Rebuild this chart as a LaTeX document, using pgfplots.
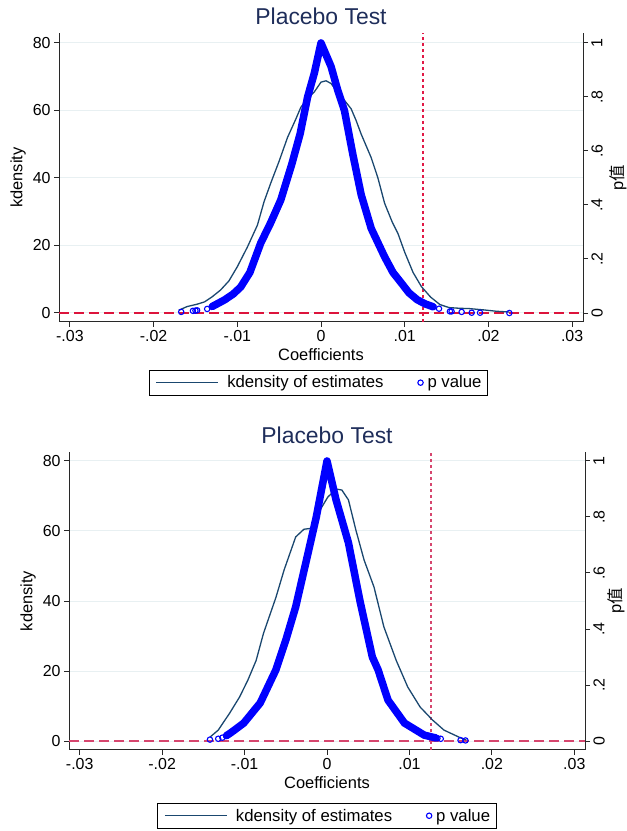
\documentclass[border=0pt]{standalone}
\usepackage{pgfplots}
\usepackage{pgfplotstable}
\pgfplotsset{compat=1.18}
\usepackage{fontspec}
\setmainfont{Liberation Sans}
\newfontfamily\cjk{Noto Sans CJK SC}

\definecolor{stnavy}{RGB}{26,71,111}
\definecolor{sttitle}{RGB}{30,45,90}
\definecolor{stgrid}{RGB}{232,240,242}
\definecolor{axgray}{RGB}{40,40,40}
\definecolor{refred}{RGB}{220,20,60}
\definecolor{refpink}{RGB}{214,70,110}

% kdensity of estimates, top panel
\pgfplotstableread{
x y
-0.0170 0.8
-0.0160 1.9
-0.0148 2.6
-0.0139 3.3
-0.0130 4.8
-0.0120 6.8
-0.0110 9.5
-0.0100 13.7
-0.0088 19.5
-0.0076 26.0
-0.0068 33.0
-0.0060 38.5
-0.0050 45.0
-0.0040 52.0
-0.0030 57.5
-0.0024 61.0
-0.0016 63.5
-0.0008 65.5
0.0000 68.4
0.0006 68.8
0.0012 68.0
0.0018 66.0
0.0028 63.0
0.0036 60.5
0.0042 57.0
0.0048 53.0
0.0060 46.0
0.0068 40.0
0.0076 32.5
0.0085 27.0
0.0092 23.5
0.0100 18.0
0.0110 12.0
0.0120 7.8
0.0131 4.7
0.0142 2.5
0.0153 1.6
0.0165 1.4
0.0177 1.3
0.0195 0.9
0.0210 0.5
0.0225 0.3
}\kdtop

% p value, top panel
\pgfplotstableread{
x p
-0.0167 0.004
-0.0153 0.008
-0.0150 0.009
-0.0148 0.010
-0.0136 0.015
-0.0130 0.024
-0.0124 0.034
-0.0115 0.049
-0.0105 0.070
-0.0096 0.096
-0.0085 0.150
-0.0072 0.259
-0.0060 0.335
-0.0048 0.419
-0.0035 0.550
-0.0025 0.663
-0.0016 0.800
-0.0008 0.888
0.0000 1.000
0.0012 0.913
0.0020 0.825
0.0028 0.750
0.0038 0.588
0.0048 0.438
0.0060 0.313
0.0076 0.208
0.0086 0.150
0.0096 0.111
0.0105 0.075
0.0115 0.049
0.0125 0.033
0.0134 0.023
0.0141 0.016
0.0154 0.006
0.0156 0.006
0.0168 0.004
0.0180 0.001
0.0190 0.001
0.0225 0.000
}\ptop

% kdensity of estimates, bottom panel
\pgfplotstableread{
x y
-0.0142 1.1
-0.0132 3.1
-0.0118 8.0
-0.0106 12.6
-0.0096 17.4
-0.0086 23.0
-0.0077 30.8
-0.0062 41.0
-0.0052 48.9
-0.0038 58.3
-0.0028 60.5
-0.0018 60.8
-0.0011 65.0
0.0001 69.7
0.0011 72.0
0.0018 71.7
0.0026 68.9
0.0035 60.3
0.0045 51.7
0.0057 44.0
0.0069 32.6
0.0084 23.0
0.0098 15.4
0.0113 9.7
0.0128 6.0
0.0142 3.1
0.0162 0.9
0.0169 0.3
}\kdbot

% p value, bottom panel
\pgfplotstableread{
x p
-0.0142 0.005
-0.0132 0.008
-0.0127 0.012
-0.0122 0.019
-0.0116 0.031
-0.0101 0.064
-0.0081 0.136
-0.0062 0.254
-0.0050 0.360
-0.0038 0.479
-0.0023 0.671
-0.0013 0.800
0.0000 1.000
0.0011 0.861
0.0026 0.708
0.0040 0.500
0.0055 0.300
0.0062 0.254
0.0074 0.146
0.0094 0.064
0.0118 0.021
0.0132 0.011
0.0134 0.010
0.0138 0.008
0.0162 0.003
0.0168 0.002
}\pbot

\pgfplotsset{
  longline legend/.style={legend image code/.code={%
      \draw[##1] (3bp,0bp) -- (65bp,0bp);
      \path[draw=none] (0bp,0bp) -- (72bp,0bp);}},
  circ legend/.style={legend image code/.code={%
      \draw[mark repeat=2, mark phase=2, ##1, only marks] plot coordinates {(0bp,0bp) (3bp,0bp) (6bp,0bp)};
      \path[draw=none] (0bp,0bp) -- (8bp,0bp);}},
  base/.style={
    scale only axis, anchor=south west,
    xmin=-0.0313, xmax=0.0313,
    scaled x ticks=false, scaled y ticks=false,
    tick align=outside, major tick length=5bp,
    axis line style={line width=1bp, color=axgray},
    every tick/.style={line width=1bp, color=axgray},
    ticklabel style={font=\fontsize{16}{18}\selectfont},
    label style={font=\fontsize{16.5}{19}\selectfont},
    /pgf/number format/assume math mode=true,
  },
  leftax/.style={
    base,
    axis x line*=bottom, axis y line*=left,
    xtick={-0.03,-0.02,-0.01,0,0.01,0.02,0.03},
    xticklabels={-.03,-.02,-.01,0,.01,.02,.03},
    ytick={0,20,40,60,80},
    ymajorgrids, grid style={stgrid, line width=1bp},
    xlabel={Coefficients}, ylabel={kdensity},
    title={Placebo Test},
    title style={font=\fontsize{23}{27}\selectfont, text=sttitle, at={(0.5,1)}, anchor=south, yshift=-1bp},
  },
  rightax/.style={
    base,
    axis x line=none, axis y line*=right,
    ytick={0,0.2,0.4,0.6,0.8,1},
    yticklabels={0,.2,.4,.6,.8,1},
    yticklabel style={rotate=90, anchor=north},
    ylabel={p{\cjk 值}},
    legend columns=2,
    legend style={anchor=north, draw=black, line width=0.8bp, fill=white,
      font=\fontsize{16.8}{19}\selectfont, inner xsep=4bp, inner ysep=3.5bp,
      /tikz/every even column/.append style={column sep=32bp}},
  },
}

\begin{document}
\begin{tikzpicture}
\useasboundingbox (0,0) rectangle (627bp,831bp);

% ---------- top panel ----------
\begin{axis}[leftax, at={(59bp,509bp)}, width=524bp, height=289bp,
  ymin=-2.67, ymax=82.96]
\addplot[refred, line width=1.1bp, dash pattern=on 10bp off 5bp] coordinates {(-0.0313,0) (0.0313,0)};
\addplot[color={rgb,255:red,225;green,25;blue,70}, line width=1.3bp, dash pattern=on 3bp off 3bp] coordinates {(0.0122,-2.67) (0.0122,82.96)};
\addplot[stnavy, line width=1.3bp] table {\kdtop};
\end{axis}
\begin{axis}[rightax, at={(59bp,509bp)}, width=524bp, height=289bp,
  ymin=-0.0333, ymax=1.037,
  every axis y label/.style={at={(rel axis cs:1,0.5)}, xshift=35bp, rotate=90,
    anchor=center, font=\fontsize{16.5}{19}\selectfont},
  legend style={at={(0.495,-0.166)}}]
\addlegendimage{stnavy, line width=1.3bp, longline legend}
\addlegendentry{kdensity of estimates}
\addplot[blue, line width=7.5bp, line join=round, line cap=round, forget plot,
  restrict x to domain=-0.0131:0.0135] table {\ptop};
\addplot[blue, only marks, mark=o, mark size=2.7bp, mark options={line width=1.1bp}, circ legend] table {\ptop};
\addlegendentry{p value}
\end{axis}

% ---------- bottom panel ----------
\begin{axis}[leftax, at={(69bp,81bp)}, width=516bp, height=298bp,
  ymin=-2.57, ymax=82.57]
\addplot[refpink, line width=1.1bp, dash pattern=on 10bp off 5bp] coordinates {(-0.0313,0) (0.0313,0)};
\addplot[refpink, line width=1.3bp, dash pattern=on 3bp off 3bp] coordinates {(0.0126,-2.57) (0.0126,82.57)};
\addplot[stnavy, line width=1.3bp] table {\kdbot};
\end{axis}
\begin{axis}[rightax, at={(69bp,81bp)}, width=516bp, height=298bp,
  ymin=-0.0321, ymax=1.0321,
  every axis y label/.style={at={(rel axis cs:1,0.5)}, xshift=31bp, rotate=90,
    anchor=center, font=\fontsize{16.5}{19}\selectfont},
  legend style={at={(0.5,-0.178)}}]
\addlegendimage{stnavy, line width=1.3bp, longline legend}
\addlegendentry{kdensity of estimates}
\addplot[blue, line width=7.5bp, line join=round, line cap=round, forget plot,
  restrict x to domain=-0.0123:0.0133] table {\pbot};
\addplot[blue, only marks, mark=o, mark size=2.7bp, mark options={line width=1.1bp}, circ legend] table {\pbot};
\addlegendentry{p value}
\end{axis}
\end{tikzpicture}
\end{document}
